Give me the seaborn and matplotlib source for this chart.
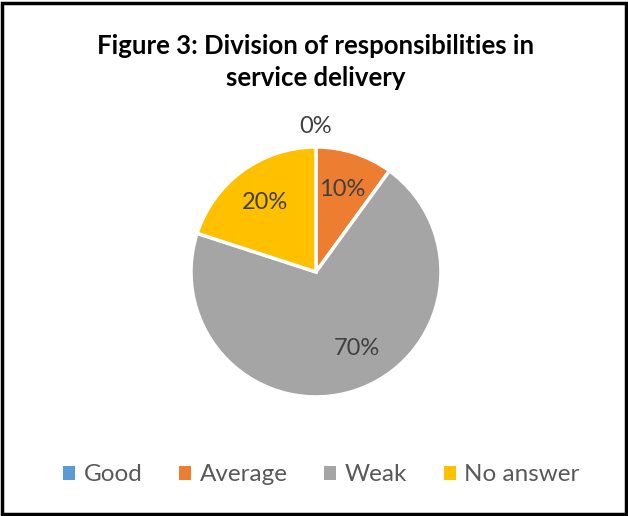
import matplotlib
matplotlib.use("Agg")
import numpy as np
import matplotlib.pyplot as plt
import seaborn as sns
from matplotlib.patches import Rectangle, Patch

categories = ["Good", "Average", "Weak", "No answer"]
values = [0, 10, 70, 20]
colors = ["#5B9BD5", "#ED7D31", "#A5A5A5", "#FFC000"]
title = "Figure 3: Division of responsibilities in\nservice delivery"

sns.set_theme(style="white")
plt.rcParams['font.family'] = ['Lato', 'DejaVu Sans']

fig = plt.figure(figsize=(6.28, 5.16), dpi=100)
fig.patch.set_facecolor("white")
ax = fig.add_axes([0.2444, 0.158, 0.5175, 0.630])

wedges, texts, autotexts = ax.pie(
    values, colors=colors, startangle=90, counterclock=False,
    autopct=lambda p: f"{p:.0f}%", pctdistance=0.69,
    wedgeprops=dict(edgecolor="white", linewidth=2.5),
    textprops=dict(fontsize=17, color="#404040"))
for w, t, v in zip(wedges, autotexts, values):
    if v == 0:
        t.set_position((0, 1.16))
    elif v == max(values):
        ang = np.deg2rad((w.theta1 + w.theta2) / 2 + 10)
        t.set_position((0.69 * np.cos(ang), 0.69 * np.sin(ang)))
ax.set_xlim(-1.3, 1.3)
ax.set_ylim(-1.3, 1.3)
ax.set_aspect("equal")
ax.axis("off")

fig.text(0.503, 0.880, title, ha="center", va="center", fontsize=18.5,
         fontweight="bold", color="black", linespacing=1.42)

handles = [Patch(facecolor=c, edgecolor="none") for c in colors]
fig.legend(handles, categories, loc="center", bbox_to_anchor=(0.512, 0.08),
           ncol=4, frameon=False, fontsize=17.5, handlelength=0.5,
           handleheight=0.5, handletextpad=0.35, columnspacing=1.5,
           labelcolor="#595959")

fig.patches.append(Rectangle((0.003, 0.004), 0.994, 0.99, transform=fig.transFigure,
                             fill=False, edgecolor="black", linewidth=2.5))
fig.savefig("out.png", dpi=100, facecolor="white")
